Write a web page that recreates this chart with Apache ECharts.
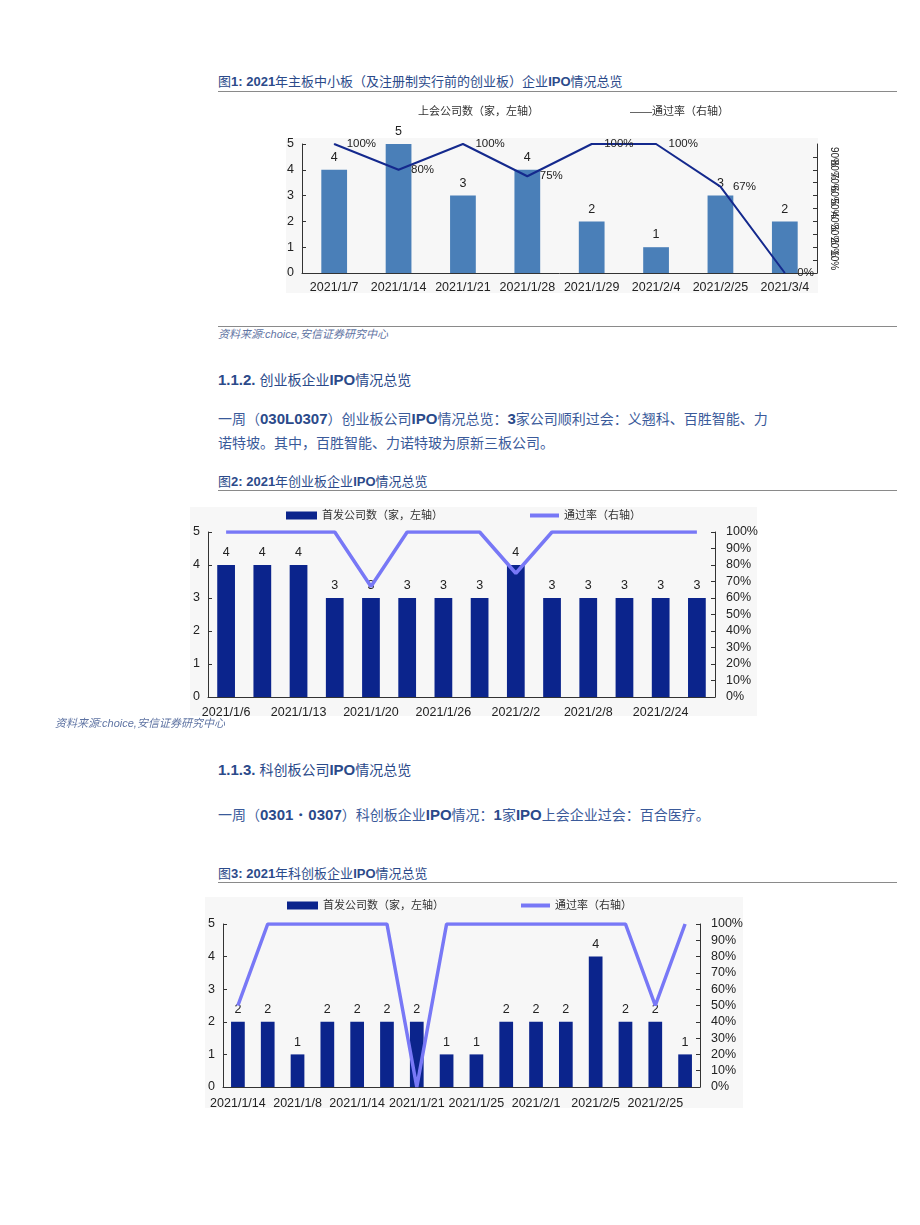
<!DOCTYPE html>
<html><head><meta charset="utf-8">
<script src="https://cdn.jsdelivr.net/npm/echarts@6/dist/echarts.min.js"></script>
<style>
body{margin:0;width:920px;height:1225px;background:#fff;position:relative;overflow:hidden;font-family:"Liberation Sans","Noto Sans CJK SC",sans-serif;}
.t{position:absolute;white-space:nowrap;}
.hdr{left:218px;font-size:13px;line-height:16px;color:#2b4a8a;}
.hdr b,.sec b,.par b{font-family:"Liberation Sans",Arial,sans-serif;font-weight:bold;}
.rule{position:absolute;left:218px;width:679px;height:1px;background:#8a8a8a;}
.src{font-size:11px;font-style:italic;color:#5f74a3;line-height:14px;}
.sec{left:218px;font-size:14px;color:#2b4a8a;line-height:18px;}
.sec b{font-size:15px;}
.par{left:218px;font-size:14px;color:#3a5a9a;line-height:24px;}
.par b{color:#2b4a8a;font-size:15px;}
.bg{position:absolute;background:#f7f7f7;}
.chart{position:absolute;}
</style></head>
<body>
<div class="t hdr" style="top:74px">图<b>1: 2021</b>年主板中小板（及注册制实行前的创业板）企业<b>IPO</b>情况总览</div>
<div class="rule" style="top:91px"></div>
<div class="bg" style="left:286px;top:138px;width:532px;height:155px"></div>
<div class="chart" id="c1" style="left:250px;top:95px;width:650px;height:210px"></div>
<div class="rule" style="top:326px"></div>
<div class="t src" style="left:218px;top:327px">资料来源:choice,安信证券研究中心</div>

<div class="t sec" style="top:371px"><b>1.1.2.</b> 创业板企业<b>IPO</b>情况总览</div>
<div class="t par" style="top:407px">一周（<b>030L0307</b>）创业板公司<b>IPO</b>情况总览：<b>3</b>家公司顺利过会：义翘科、百胜智能、力<br>诺特坡。其中，百胜智能、力诺特玻为原新三板公司。</div>

<div class="t hdr" style="top:474px">图<b>2: 2021</b>年创业板企业<b>IPO</b>情况总览</div>
<div class="rule" style="top:490px"></div>
<div class="bg" style="left:190px;top:507px;width:567px;height:209px"></div>
<div class="chart" id="c2" style="left:180px;top:500px;width:600px;height:225px"></div>
<div class="t src" style="left:55px;top:716px;z-index:5">资料来源:choice,安信证券研究中心</div>

<div class="t sec" style="top:761px"><b>1.1.3.</b> 科创板公司<b>IPO</b>情况总览</div>
<div class="t par" style="top:803px">一周（<b>0301・0307</b>）科创板企业<b>IPO</b>情况：<b>1</b>家<b>IPO</b>上会企业过会：百合医疗。</div>

<div class="t hdr" style="top:866px">图<b>3: 2021</b>年科创板企业<b>IPO</b>情况总览</div>
<div class="rule" style="top:882px"></div>
<div class="bg" style="left:205px;top:897px;width:538px;height:211px"></div>
<div class="chart" id="c3" style="left:195px;top:890px;width:560px;height:225px"></div>

<script>
// ---- Chart 1 data ----
const c1Categories = ['2021/1/7','2021/1/14','2021/1/21','2021/1/28','2021/1/29','2021/2/4','2021/2/25','2021/3/4'];
const c1Counts = [4,5,3,4,2,1,3,2];
const c1Rates = [100,80,100,75,100,100,67,0];
const c1Legend = ['上会公司数（家，左轴）','——通过率（右轴）'];

// ---- Chart 2 data ----
const c2Categories = ['2021/1/6','2021/1/7','2021/1/13','2021/1/14','2021/1/20','2021/1/21','2021/1/26','2021/1/28','2021/2/2','2021/2/4','2021/2/8','2021/2/9','2021/2/24','2021/2/25'];
const c2Counts = [4,4,4,3,3,3,3,3,4,3,3,3,3,3];
const c2Rates = [100,100,100,100,67,100,100,100,75,100,100,100,100,100];

// ---- Chart 3 data ----
const c3Categories = ['2021/1/14','2021/1/7','2021/1/8','2021/1/12','2021/1/14','2021/1/19','2021/1/21','2021/1/22','2021/1/25','2021/1/28','2021/2/1','2021/2/4','2021/2/5','2021/2/9','2021/2/25','2021/3/4'];
const c3Counts = [2,2,1,2,2,2,2,1,1,2,2,2,4,2,2,1];
const c3Rates = [50,100,100,100,100,100,0,100,100,100,100,100,100,100,50,100];

const seriesNames = ['首发公司数（家，左轴）','通过率（右轴）'];

const FONT = "'Liberation Sans','Noto Sans CJK SC',sans-serif";
const AX = '#333';

function leftAxis(){
  return {type:'value',min:0,max:5,interval:1,splitLine:{show:false},
    axisLine:{show:true,lineStyle:{color:AX}},axisTick:{show:true,inside:true,length:4,lineStyle:{color:AX}},
    axisLabel:{fontSize:12.5,color:'#222',margin:8,fontFamily:FONT}};
}

// Chart 1
const c1 = echarts.init(document.getElementById('c1'));
c1.setOption({
  animation:false,
  textStyle:{fontFamily:FONT},
  grid:{left:52,right:83,top:49,bottom:32},
  graphic:[
    {type:'text',left:168,top:11,style:{text:c1Legend[0],fontSize:11,fill:'#333',fontFamily:FONT}},
    {type:'text',left:380,top:11,style:{text:c1Legend[1],fontSize:11,fill:'#333',fontFamily:FONT}}
  ],
  xAxis:{type:'category',data:c1Categories,axisLine:{lineStyle:{color:AX}},
    axisTick:{inside:true,length:4,lineStyle:{color:AX}},
    axisLabel:{color:'#222',fontSize:12.5,margin:8,interval:0,fontFamily:FONT}},
  yAxis:[leftAxis(),
    {type:'value',min:0,max:100,interval:10,position:'right',splitLine:{show:false},
     axisLine:{show:true,lineStyle:{color:AX}},axisTick:{show:true,inside:true,length:4,lineStyle:{color:AX}},
     axisLabel:{formatter:'{value}%',rotate:-90,fontSize:10,margin:12,color:'#222',fontFamily:FONT}}],
  series:[
    {type:'bar',data:c1Counts,barWidth:'40%',itemStyle:{color:'#4a7fb8'},
     label:{show:true,position:'top',distance:6,fontSize:12.5,color:'#222',fontFamily:FONT}},
    {type:'line',yAxisIndex:1,data:c1Rates,symbol:'circle',symbolSize:1,showSymbol:true,
     itemStyle:{color:'#14298d'},lineStyle:{color:'#14298d',width:2},
     label:{show:true,position:'right',distance:12,fontSize:11.5,color:'#222',formatter:'{c}%',fontFamily:FONT}}
  ]
});

function comboOption(cats,counts,rates,grid,leg1Left,leg2Left,barW,lblMargin){
  return {
    animation:false,
    textStyle:{fontFamily:FONT},
    grid:grid,
    legend:[
      {data:[seriesNames[0]],left:leg1Left,top:5,icon:'rect',itemWidth:31,itemHeight:8,itemGap:4,
       textStyle:{fontSize:11,color:'#333',fontFamily:FONT}},
      {data:[seriesNames[1]],left:leg2Left,top:5,icon:'rect',itemWidth:29,itemHeight:4,itemGap:4,
       textStyle:{fontSize:11,color:'#333',fontFamily:FONT}}
    ],
    xAxis:{type:'category',data:cats,axisLine:{lineStyle:{color:AX}},
      axisTick:{inside:true,length:4,lineStyle:{color:AX}},
      axisLabel:{color:'#222',fontSize:12.5,margin:lblMargin,interval:1,fontFamily:FONT}},
    yAxis:[leftAxis(),
      {type:'value',min:0,max:100,interval:10,position:'right',splitLine:{show:false},
       axisLine:{show:true,lineStyle:{color:AX}},axisTick:{show:true,inside:true,length:4,lineStyle:{color:AX}},
       axisLabel:{formatter:'{value}%',fontSize:12.5,margin:11,color:'#222',fontFamily:FONT}}],
    series:[
      {name:seriesNames[0],type:'bar',data:counts,barWidth:barW,itemStyle:{color:'#0b248c'},
       label:{show:true,position:'top',distance:6,fontSize:12.5,color:'#222',fontFamily:FONT}},
      {name:seriesNames[1],type:'line',yAxisIndex:1,data:rates,symbol:'none',
       itemStyle:{color:'#7878f6'},lineStyle:{color:'#7878f6',width:3.5}}
    ]
  };
}

const c2 = echarts.init(document.getElementById('c2'));
c2.setOption(comboOption(c2Categories,c2Counts,c2Rates,{left:28,right:65,top:32,bottom:28},101,345,'49%',9));

const c3 = echarts.init(document.getElementById('c3'));
c3.setOption(comboOption(c3Categories,c3Counts,c3Rates,{left:28,right:55,top:34,bottom:28},87,321,'46%',10));
</script>
</body></html>
